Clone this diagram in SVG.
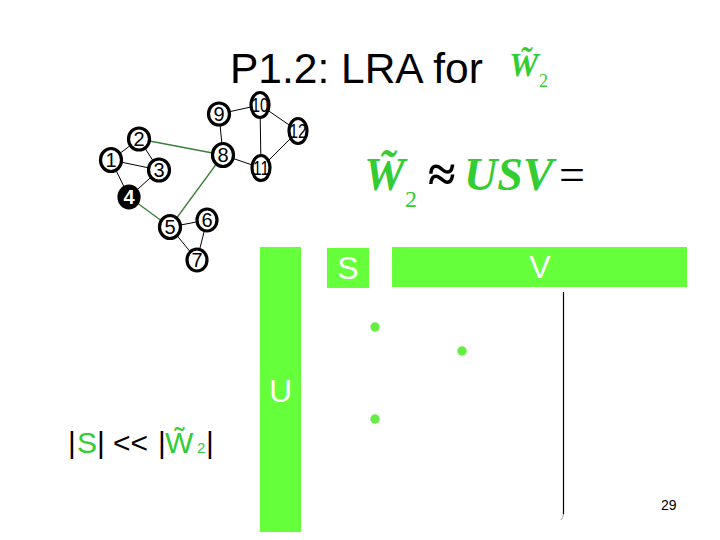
<svg xmlns="http://www.w3.org/2000/svg" width="720" height="540" viewBox="0 0 720 540">
<style>
.edge{stroke:#000;stroke-width:1;fill:none}
.gedge{stroke:#3d7d3a;stroke-width:1.3;fill:none}
.node ellipse{fill:#fff;stroke:#000;stroke-width:3.2}
.node text{font-family:"Liberation Sans",Arial,sans-serif;font-size:20px;text-anchor:middle;fill:#000}
.dark ellipse{fill:#000}
.dark text{fill:#fff;font-weight:bold}
.blk{fill:#66ff3c}
.wt{font-family:"Liberation Sans",Arial,sans-serif;font-size:32px;fill:#fff;text-anchor:middle}
.gr{fill:#33cc33}
.dot{fill:#66ee44}
.tm{font-family:"Liberation Serif","Times New Roman",serif}
</style>
<rect width="720" height="540" fill="#fff"/>
<g id="title">
<text x="230" y="83" font-family="Liberation Sans,Arial,sans-serif" font-size="42.5" fill="#000">P1.2: LRA for</text>
<text x="509" y="76" class="tm gr" font-style="italic" font-weight="bold" font-size="33">W&#x303;</text>
<text x="539" y="87" class="tm gr" font-size="18">2</text>
</g>
<g id="connectors">
<line class="edge" x1="111" y1="160" x2="139" y2="139"/>
<line class="edge" x1="111" y1="160" x2="159" y2="170"/>
<line class="edge" x1="111" y1="160" x2="129" y2="197"/>
<line class="edge" x1="139" y1="139" x2="159" y2="170"/>
<line class="edge" x1="159" y1="170" x2="129" y2="197"/>
<line class="gedge" x1="129" y1="197" x2="170" y2="227"/>
<line class="gedge" x1="139" y1="139" x2="223" y2="155"/>
<line class="gedge" x1="170" y1="227" x2="223" y2="155"/>
<line class="edge" x1="170" y1="227" x2="207" y2="220"/>
<line class="edge" x1="170" y1="227" x2="197" y2="260"/>
<line class="edge" x1="207" y1="220" x2="197" y2="260"/>
<line class="edge" x1="223" y1="155" x2="219" y2="114"/>
<line class="edge" x1="223" y1="155" x2="261" y2="168"/>
<line class="edge" x1="219" y1="114" x2="260" y2="105"/>
<line class="edge" x1="260" y1="105" x2="261" y2="168"/>
<line class="edge" x1="260" y1="105" x2="298" y2="131"/>
<line class="edge" x1="261" y1="168" x2="298" y2="131"/>
</g>
<g id="n1" class="node"><ellipse cx="111" cy="160" rx="10.5" ry="11.5"/><text x="111" y="167">1</text></g>
<g id="n2" class="node"><ellipse cx="139" cy="139" rx="10.5" ry="11"/><text x="139" y="146">2</text></g>
<g id="n3" class="node"><ellipse cx="159" cy="170" rx="10.5" ry="11"/><text x="159" y="177">3</text></g>
<g id="n4" class="node dark"><ellipse cx="129" cy="197" rx="10" ry="11"/><text x="129" y="204">4</text></g>
<g id="n5" class="node"><ellipse cx="170" cy="227" rx="10.5" ry="11.5"/><text x="170" y="234">5</text></g>
<g id="n6" class="node"><ellipse cx="207" cy="220" rx="10" ry="11"/><text x="207" y="227">6</text></g>
<g id="n7" class="node"><ellipse cx="197" cy="260" rx="10" ry="11"/><text x="197" y="267">7</text></g>
<g id="n8" class="node"><ellipse cx="223" cy="155" rx="10.5" ry="11.5"/><text x="223" y="162">8</text></g>
<g id="n9" class="node"><ellipse cx="219" cy="114" rx="10.5" ry="11"/><text x="219" y="121">9</text></g>
<g id="n10" class="node"><ellipse cx="260" cy="105" rx="9" ry="12.5"/><text x="260" y="112" textLength="17" lengthAdjust="spacingAndGlyphs">10</text></g>
<g id="n11" class="node"><ellipse cx="261" cy="168" rx="9" ry="12.5"/><text x="261" y="175" textLength="16" lengthAdjust="spacingAndGlyphs">11</text></g>
<g id="n12" class="node"><ellipse cx="298" cy="131" rx="9" ry="12.5"/><text x="298" y="138" textLength="17" lengthAdjust="spacingAndGlyphs">12</text></g>
<g id="formula">
<text x="364" y="190" class="tm gr" font-style="italic" font-weight="bold" font-size="46">W&#x303;</text>
<text x="405" y="207" class="tm gr" font-size="24">2</text>
<text x="428" y="191" class="tm" font-size="50" font-weight="bold" fill="#000">≈</text>
<text x="464" y="190" class="tm gr" font-style="italic" font-weight="bold" font-size="46">USV</text>
<text x="559" y="190" class="tm" font-size="46" fill="#000">=</text>
</g>
<g id="U"><rect class="blk" x="260" y="247" width="41" height="285"/><text class="wt" x="280.5" y="402">U</text></g>
<g id="S"><rect class="blk" x="327" y="248" width="42" height="40"/><text class="wt" x="348" y="279">S</text></g>
<g id="V"><rect class="blk" x="392" y="247" width="295" height="40"/><text class="wt" x="540" y="278">V</text></g>
<g id="dots">
<circle class="dot" cx="375" cy="327" r="4.7"/>
<circle class="dot" cx="462" cy="351" r="4.7"/>
<circle class="dot" cx="375" cy="419" r="4.7"/>
</g>
<g id="vline">
<line x1="563.5" y1="292" x2="563.5" y2="514" stroke="#000" stroke-width="1.2"/>
<path d="M563.5 514 Q563 518 561 520" stroke="#888" stroke-width="0.8" fill="none"/>
</g>
<g id="ratio" font-family="Liberation Sans,Arial,sans-serif" font-size="30">
<text x="68" y="453" fill="#000">|</text>
<text x="77" y="453" class="gr">S</text>
<text x="97" y="453" fill="#000">|</text>
<text x="113" y="453" fill="#000">&lt;&lt;</text>
<text x="158" y="453" fill="#000">|</text>
<text x="165" y="453" class="gr">W&#x303;</text>
<text x="197" y="453" class="gr" font-size="15">2</text>
<text x="206" y="453" fill="#000">|</text>
</g>
<text x="661" y="510" font-family="Liberation Sans,Arial,sans-serif" font-size="14" fill="#000">29</text>
</svg>
